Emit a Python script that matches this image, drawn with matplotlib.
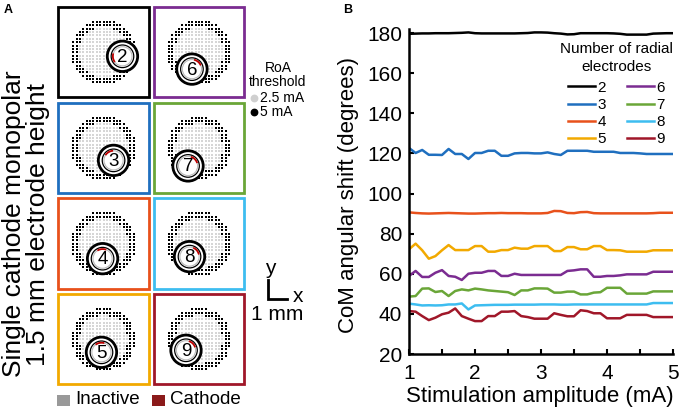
import numpy as np
import matplotlib.pyplot as plt
from matplotlib.patches import Rectangle, Circle

plt.rcParams['font.family'] = ['Liberation Sans', 'DejaVu Sans']

# Datos: numero de electrodos radiales y colores
electrodos = [2, 3, 4, 5, 6, 7, 8, 9]
colores = ['#000000', '#1f6fbf', '#e8511b', '#f2a900',
           '#7b2c91', '#6aa638', '#3dbdf0', '#a01729']

# Panel B: amplitud de estimulacion (mA) y desplazamiento angular (grados)
amplitud = [1.0, 1.1, 1.2, 1.3, 1.4, 1.5, 1.6, 1.7, 1.8, 1.9,
            2.0, 2.1, 2.2, 2.3, 2.4, 2.5, 2.6, 2.7, 2.8, 2.9,
            3.0, 3.1, 3.2, 3.3, 3.4, 3.5, 3.6, 3.7, 3.8, 3.9,
            4.0, 4.1, 4.2, 4.3, 4.4, 4.5, 4.6, 4.7, 4.8, 4.9, 5.0]

shift_2 = [179.6, 179.7, 179.8, 179.8, 179.9, 179.9, 179.9, 180.0, 180.1, 180.3,
           179.9, 179.8, 179.8, 179.8, 179.8, 179.8, 179.8, 179.9, 180.0, 180.3,
           180.3, 180.2, 179.9, 179.7, 179.3, 179.4, 179.9, 179.9, 179.9, 179.9,
           179.9, 179.8, 179.6, 179.2, 179.2, 179.2, 179.2, 179.7, 179.8, 179.9, 179.9]
shift_3 = [122.7, 120.2, 121.7, 119.3, 119.3, 119.2, 122.2, 119.7, 119.7, 117.2,
           120.2, 120.2, 121.3, 121.3, 118.8, 118.8, 120.0, 120.2, 120.2, 120.0,
           120.0, 120.5, 119.7, 119.2, 121.3, 121.3, 121.3, 121.3, 120.8, 120.8,
           120.8, 120.8, 120.2, 120.2, 120.2, 120.0, 119.7, 119.7, 119.7, 119.7, 119.7]
shift_4 = [90.6, 90.3, 90.1, 90.0, 90.1, 90.2, 90.3, 90.2, 90.1, 90.0,
           90.0, 90.1, 90.2, 90.2, 90.3, 90.2, 90.2, 90.2, 90.1, 90.1,
           90.1, 90.3, 91.3, 91.2, 90.3, 90.2, 90.7, 90.8, 90.2, 90.1,
           90.1, 90.1, 90.1, 90.1, 90.1, 90.1, 90.1, 90.2, 90.4, 90.4, 90.4]
shift_5 = [72.2, 75.0, 71.7, 67.5, 68.8, 71.7, 74.3, 71.8, 71.8, 71.8,
           73.8, 73.8, 71.0, 71.0, 71.8, 71.8, 73.0, 72.5, 72.5, 73.8,
           73.8, 73.8, 71.3, 71.3, 73.3, 73.3, 72.2, 72.2, 73.8, 73.8,
           71.8, 71.8, 71.7, 71.0, 71.0, 71.0, 71.0, 71.7, 71.7, 71.7, 71.7]
shift_6 = [58.9, 61.4, 58.4, 58.4, 60.5, 61.8, 58.9, 58.5, 56.9, 60.0,
           60.5, 60.5, 61.4, 61.4, 58.9, 58.9, 60.0, 59.4, 59.4, 59.4,
           59.4, 59.4, 59.4, 59.4, 61.4, 61.7, 62.2, 62.2, 58.5, 58.5,
           58.9, 58.9, 59.2, 59.7, 59.7, 59.7, 59.7, 61.0, 61.0, 61.0, 61.0]
shift_7 = [48.6, 48.9, 52.6, 52.7, 50.9, 51.4, 48.9, 51.4, 52.2, 51.7,
           52.6, 52.2, 51.7, 51.4, 51.1, 50.8, 49.4, 51.7, 51.7, 52.7,
           52.7, 52.6, 50.6, 50.6, 51.1, 51.1, 49.7, 49.7, 50.6, 50.8,
           53.0, 53.0, 53.0, 50.1, 50.1, 50.1, 50.1, 51.2, 51.2, 51.2, 51.2]
shift_8 = [45.1, 44.7, 44.2, 44.3, 44.2, 44.3, 44.7, 44.7, 45.2, 42.2,
           44.2, 44.3, 44.4, 44.5, 44.5, 44.5, 44.6, 44.6, 44.6, 44.6,
           44.7, 44.7, 44.7, 44.6, 44.6, 44.7, 44.7, 44.7, 44.7, 44.7,
           44.7, 44.7, 44.7, 44.7, 44.7, 44.7, 44.7, 45.4, 45.4, 45.4, 45.4]
shift_9 = [41.4, 41.1, 38.9, 36.9, 38.1, 39.8, 40.6, 42.7, 38.9, 37.6,
           36.4, 36.4, 38.9, 38.9, 41.1, 41.1, 41.4, 38.9, 38.4, 37.6,
           37.6, 37.6, 40.3, 39.5, 38.8, 38.8, 41.8, 41.4, 40.3, 40.3,
           37.8, 37.8, 37.8, 39.5, 39.5, 39.5, 39.5, 38.4, 38.4, 38.4, 38.4]
shifts = [shift_2, shift_3, shift_4, shift_5, shift_6, shift_7, shift_8, shift_9]

# Panel A: posicion del electrodo respecto al centro (mm), angulo del catodo (grados)
elec_dx = [1.02, 0.54, -0.05, -0.11, -0.38, -0.59, -0.51, -0.70]
elec_dy = [-0.22, -0.67, -0.81, -0.70, -0.91, -0.97, -0.70, -0.59]
catodo_ang = [190, 120, 95, 100, 50, 45, 40, 45]
# radio de la region de activacion (mm) a 5 mA y a 2.5 mA
roa_5ma = [1.75, 1.72, 1.76, 1.70, 1.74, 1.70, 1.73, 1.70]
roa_25ma = [1.35, 1.32, 1.36, 1.30, 1.34, 1.30, 1.33, 1.30]

fig = plt.figure(figsize=(6.8, 4.12), dpi=100)

#Panel A en coordenadas de pixel
axA = fig.add_axes([0, 0, 0.5, 1])
axA.set_xlim(0, 340)
axA.set_ylim(412, 0)
axA.axis('off')

px_mm = 18.6
paso = 0.18
g = np.arange(-11, 12) * paso
gx, gy = np.meshgrid(g, g)
gx = gx.ravel()
gy = gy.ravel()

for k in range(len(electrodos)):
    col = k // 4
    fila = k % 4
    x0 = 57 + col * 95.5
    y0 = 5.7 + fila * 95.7
    axA.add_patch(Rectangle((x0 + 1.35, y0 + 1.35), 90.3, 90.3, fill=False,
                            ec=colores[k], lw=2.0, zorder=5))
    cx = x0 + 46.5
    cy = y0 + 46.5

    r = np.hypot(gx, gy)
    dentro = r <= roa_5ma[k]
    gris = r <= roa_25ma[k]
    axA.scatter(cx + gx[dentro & gris] * px_mm, cy - gy[dentro & gris] * px_mm,
                s=1.1, marker='s', c='#d6d6d6', linewidths=0, zorder=1)
    axA.scatter(cx + gx[dentro & ~gris] * px_mm, cy - gy[dentro & ~gris] * px_mm,
                s=1.3, marker='s', c='black', linewidths=0, zorder=1)

    ex = cx + elec_dx[k] * px_mm
    ey = cy - elec_dy[k] * px_mm
    axA.add_patch(Circle((ex, ey), 15.2, fc='white', ec='black', lw=2.0, zorder=3))
    axA.add_patch(Circle((ex, ey), 11.3, fill=False, ec='black', lw=0.9, zorder=3))
    axA.add_patch(Circle((ex, ey), 9.6, fill=False, ec='#bbbbbb', lw=0.8, zorder=3))
    t = np.radians(np.linspace(catodo_ang[k] - 22, catodo_ang[k] + 22, 20))
    axA.plot(ex + 9.6 * np.cos(t), ey - 9.6 * np.sin(t), color='#c00000', lw=1.3, zorder=4)
    axA.text(ex, ey + 1, str(electrodos[k]), ha='center', va='center', fontsize=13.5, zorder=4)

axA.text(4, 4, 'A', fontsize=9, fontweight='bold', ha='left', va='top')
axA.text(26, 224, 'Single cathode monopolar\n1.5 mm electrode height', rotation=90,
         ha='center', va='center', multialignment='center', fontsize=19, linespacing=1.0)

# leyenda RoA
axA.text(278, 75, 'RoA\nthreshold', ha='center', va='center', fontsize=10, linespacing=1.05)
axA.plot([254], [98], 'o', color='#cfcfcf', ms=4.6)
axA.plot([254], [112], 'o', color='black', ms=4.6)
axA.text(260, 98, '2.5 mA', ha='left', va='center', fontsize=10)
axA.text(260, 112, '5 mA', ha='left', va='center', fontsize=10)

# barra de escala
axA.plot([268, 268, 268 + px_mm], [299 - px_mm, 299, 299], color='black', lw=2, solid_joinstyle='miter')
axA.text(270, 268, 'y', ha='center', va='center', fontsize=15)
axA.text(298, 297, 'x', ha='center', va='center', fontsize=15)
axA.text(277, 315, '1 mm', ha='center', va='center', fontsize=15)

# leyenda inferior
axA.add_patch(Rectangle((57, 394.5), 13, 11, fc='#999999', ec='none'))
axA.text(75, 400, 'Inactive', ha='left', va='center', fontsize=13.5)
axA.add_patch(Rectangle((152, 394.5), 13, 11, fc='#8b1a1a', ec='none'))
axA.text(170, 400, 'Cathode', ha='left', va='center', fontsize=13.5)

#Panel B
axB = fig.add_axes([409 / 680, 1 - 354 / 412, 264 / 680, 325 / 412])
for k in range(len(electrodos)):
    axB.plot(amplitud, shifts[k], color=colores[k], lw=1.8, label=str(electrodos[k]))

axB.set_xlim(1, 5)
axB.set_ylim(20, 182)
axB.set_xticks([1, 2, 3, 4, 5])
axB.set_xticks([1.5, 2.5, 3.5, 4.5], minor=True)
axB.set_yticks(np.arange(20, 181, 20))
axB.spines['top'].set_visible(False)
axB.spines['right'].set_visible(False)
axB.spines['left'].set_linewidth(1.8)
axB.spines['bottom'].set_linewidth(1.8)
axB.tick_params(which='both', direction='in', length=3.5, width=1.5, labelsize=15)
axB.tick_params(axis='x', pad=7)
axB.tick_params(axis='y', pad=5)
axB.set_xlabel('Stimulation amplitude (mA)', fontsize=16)
axB.set_ylabel('CoM angular shift (degrees)', fontsize=16)
axB.xaxis.set_label_coords(0.496, -0.098)
axB.yaxis.set_label_coords(-0.19, 0.49)

leg = axB.legend(ncol=2, title='Number of radial\nelectrodes', fontsize=11, title_fontsize=11,
                 frameon=False, handlelength=1.75, handletextpad=0.15, columnspacing=1.4,
                 labelspacing=0.2, borderpad=0, borderaxespad=0,
                 loc='upper right', bbox_to_anchor=(673 / 680, 1 - 42 / 412),
                 bbox_transform=fig.transFigure)
leg.get_title().set_multialignment('center')
leg.get_title().set_linespacing(1.35)
leg._legend_box.sep = 5

fig.text(343, 4, 'B', fontsize=9, fontweight='bold', ha='left', va='top',
         transform=axA.transData)

fig.savefig('out.png', dpi=100)
